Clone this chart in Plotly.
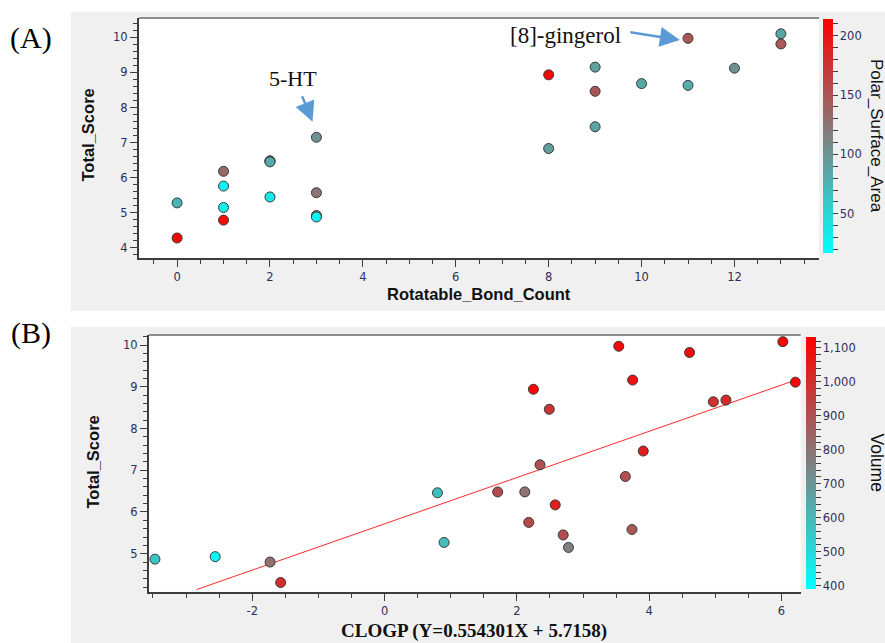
import plotly.graph_objects as go

# ---------------- data ----------------
# Panel A: Rotatable_Bond_Count vs Total_Score, coloured by Polar_Surface_Area
rot_bonds = [0, 0, 1, 1, 1, 1, 2, 2, 2, 2, 3, 3, 3, 3,
             8, 9, 9, 10, 9, 8, 11, 11, 12, 13, 13]
score_a = [5.28, 4.28, 6.18, 5.76, 5.15, 4.79, 6.48, 6.47, 6.45, 5.45, 7.15, 5.57, 4.92, 4.88,
           8.93, 9.15, 8.46, 8.68, 7.45, 6.83, 9.97, 8.63, 9.12, 10.10, 9.81]
psa = [75, 210, 135, 25, 30, 205, 85, 88, 82, 35, 102, 125, 130, 28,
       210, 90, 150, 85, 88, 92, 148, 80, 102, 85, 145]

# Panel B: CLOGP vs Total_Score, coloured by Volume
clogp = [-3.47, -2.56, -1.73, -1.57, 3.54, 3.75, 2.25, 2.49, 3.91, 2.35, 3.64, 0.80, 1.71,
         2.12, 2.58, 2.18, 2.70, 2.78, 3.74, 0.90, 4.61, 6.02, 6.21, 4.97, 5.16]
score_b = [4.87, 4.93, 4.80, 4.31, 9.97, 9.16, 8.94, 8.46, 7.46, 7.13, 6.85, 6.46, 6.48,
           6.48, 6.17, 5.75, 5.45, 5.15, 5.58, 5.27, 9.82, 10.08, 9.11, 8.64, 8.68]
volume = [560, 410, 810, 1000, 1110, 1080, 1120, 980, 1050, 900, 900, 580, 920,
          800, 1050, 920, 910, 760, 880, 590, 1100, 1120, 1110, 1000, 1010]

# Linear fit shown in panel B title
fit_slope = 0.554301
fit_intercept = 5.7158
fit_x = [-2.84, 6.21]
fit_y = [fit_slope * v + fit_intercept for v in fit_x]

clogp_ticks = [-2, 0, 2, 4, 6]
clogp_ticktext = ["-2", "0", "2", "4", "6"]
psa_ticks = list(range(20, 211, 10))
psa_ticktext = [str(v) if v % 50 == 0 else "" for v in psa_ticks]
vol_ticks = list(range(400, 1121, 20))
vol_ticktext = [f"{v:,}" if v % 100 == 0 else "" for v in vol_ticks]

# ---------------- layout helpers ----------------
W, H = 885, 643
def fx(px):
    return px / W
def fy(py):
    return 1 - py / H

A_L, A_R, A_T, A_B = 139, 819, 18, 258
B_L, B_R, B_T, B_B = 149, 800.7, 335, 591.7

scale = [[0, "#00FFFF"], [0.5, "#808080"], [1, "#FF0000"]]
tickfont = dict(family="DejaVu Sans", size=11.5, color="#2e2e5e")
axcol = "#3c3c3c"

fig = go.Figure()
fig.add_trace(go.Scatter(
    x=rot_bonds, y=score_a, mode="markers", xaxis="x", yaxis="y",
    marker=dict(color=psa, coloraxis="coloraxis", size=10,
                line=dict(color="#3a3a3a", width=1)),
    showlegend=False))
fig.add_trace(go.Scatter(
    x=fit_x, y=fit_y, mode="lines", xaxis="x2", yaxis="y2",
    line=dict(color="#ff2a2a", width=1), showlegend=False))
fig.add_trace(go.Scatter(
    x=clogp, y=score_b, mode="markers", xaxis="x2", yaxis="y2",
    marker=dict(color=volume, coloraxis="coloraxis2", size=10,
                line=dict(color="#3a3a3a", width=1)),
    showlegend=False))

common_axis = dict(showgrid=False, zeroline=False, showline=True, linecolor=axcol,
                   linewidth=2, ticks="outside", ticklen=7, tickwidth=1,
                   tickcolor=axcol, tickfont=tickfont)

fig.update_layout(
    width=W, height=H,
    margin=dict(l=0, r=0, t=0, b=0),
    paper_bgcolor="white",
    plot_bgcolor="rgba(0,0,0,0)",
    xaxis=dict(domain=[fx(A_L), fx(A_R)], range=[-0.82, 13.82], dtick=2, tick0=0,
               anchor="y", minor=dict(dtick=0.5, ticks="outside", ticklen=4,
                                      tickcolor=axcol, showgrid=False),
               **common_axis),
    yaxis=dict(domain=[fy(A_B), fy(A_T)], range=[3.71, 10.55], dtick=1, tick0=0,
               anchor="x", minor=dict(dtick=0.2, ticks="outside", ticklen=4,
                                      tickcolor=axcol, showgrid=False),
               **common_axis),
    xaxis2=dict(domain=[fx(B_L), fx(B_R)], range=[-3.56, 6.29],
                tickmode="array", tickvals=clogp_ticks, ticktext=clogp_ticktext,
                anchor="y2", minor=dict(dtick=0.5, tick0=0, ticks="outside", ticklen=4,
                                        tickcolor=axcol, showgrid=False),
                **common_axis),
    yaxis2=dict(domain=[fy(B_B), fy(B_T)], range=[4.09, 10.24], dtick=1, tick0=0,
                anchor="x2", minor=dict(dtick=0.2, ticks="outside", ticklen=4,
                                        tickcolor=axcol, showgrid=False),
                **common_axis),
    coloraxis=dict(cmin=17, cmax=214, colorscale=scale,
                   colorbar=dict(x=fx(823), xanchor="left", xpad=0,
                                 y=fy(253), yanchor="bottom", ypad=0,
                                 len=(253 - 19) / H, lenmode="fraction",
                                 thickness=10, thicknessmode="pixels",
                                 outlinewidth=0, ticks="outside", ticklen=5,
                                 tickcolor=axcol, tickvals=psa_ticks,
                                 ticktext=psa_ticktext, tickfont=tickfont)),
    coloraxis2=dict(cmin=390, cmax=1132, colorscale=scale,
                    colorbar=dict(x=fx(806), xanchor="left", xpad=0,
                                  y=fy(589), yanchor="bottom", ypad=0,
                                  len=(589 - 336.7) / H, lenmode="fraction",
                                  thickness=10, thicknessmode="pixels",
                                  outlinewidth=0, ticks="outside", ticklen=5,
                                  tickcolor=axcol, tickvals=vol_ticks,
                                  ticktext=vol_ticktext, tickfont=tickfont)),
)

# panel backgrounds
shapes = [
    dict(type="rect", xref="paper", yref="paper", x0=fx(71), x1=1, y0=fy(311), y1=fy(12),
         fillcolor="#f0f0f0", line=dict(width=0), layer="below"),
    dict(type="rect", xref="paper", yref="paper", x0=fx(71), x1=1, y0=0, y1=fy(327),
         fillcolor="#f0f0f0", line=dict(width=0), layer="below"),
    dict(type="rect", xref="paper", yref="paper", x0=fx(A_L), x1=fx(A_R), y0=fy(A_B), y1=fy(A_T),
         fillcolor="white", line=dict(width=0), layer="below"),
    dict(type="rect", xref="paper", yref="paper", x0=fx(B_L), x1=fx(B_R), y0=fy(B_B), y1=fy(B_T),
         fillcolor="white", line=dict(width=0), layer="below"),
    dict(type="line", xref="x domain", yref="y domain", x0=0, x1=1, y0=1, y1=1,
         line=dict(color="#8c8c8c", width=2)),
    dict(type="line", xref="x2 domain", yref="y2 domain", x0=0, x1=1, y0=1, y1=1,
         line=dict(color="#8c8c8c", width=2)),
]
fig.update_layout(shapes=shapes)

sans_b = dict(family="Liberation Sans", size=16.5, color="#111111")
serif = "Liberation Serif"
arrow_col = "#5b9bd5"

annotations = [
    dict(text="(A)", x=fx(31), y=fy(38), font=dict(family=serif, size=30, color="black")),
    dict(text="(B)", x=fx(31), y=fy(332.5), font=dict(family=serif, size=30, color="black")),
    dict(text="<b>Total_Score</b>", x=fx(88), y=fy(135.5), textangle=-90, font=sans_b),
    dict(text="<b>Rotatable_Bond_Count</b>", x=fx(478.5), y=fy(294), font=sans_b),
    dict(text="<b>Total_Score</b>", x=fx(92.5), y=fy(462), textangle=-90, font=sans_b),
    dict(text="<b>CLOGP (Y=0.554301X + 5.7158)</b>", x=fx(474), y=fy(631),
         font=dict(family=serif, size=19, color="#111111")),
    dict(text="Polar_Surface_Area", x=fx(876.5), y=fy(135.5), textangle=90,
         font=dict(family="Liberation Sans", size=17, color="#111111")),
    dict(text="Volume", x=fx(876.5), y=fy(462), textangle=90,
         font=dict(family="Liberation Sans", size=17.5, color="#111111")),
    dict(text="5-HT", x=fx(292.5), y=fy(78.3), font=dict(family=serif, size=22, color="#111111")),
    dict(text="[8]-gingerol", x=fx(565.5), y=fy(35), font=dict(family=serif, size=23, color="#111111")),
]
for a in annotations:
    a.update(xref="paper", yref="paper", xanchor="center", yanchor="middle", showarrow=False)

annotations += [
    dict(text="", x=2.916, y=7.593, xref="x", yref="y", showarrow=True, ax=-11, ay=-27,
         arrowhead=2, arrowsize=1.6, arrowwidth=2.5, arrowcolor=arrow_col, standoff=0),
    dict(text="", x=10.825, y=9.922, xref="x", yref="y", showarrow=True, ax=-51, ay=-8,
         arrowhead=2, arrowsize=1.6, arrowwidth=2.5, arrowcolor=arrow_col, standoff=0),
]
fig.update_layout(annotations=annotations)

# remove the page's default body margin so the figure sits at the window's top-left
fig.write_html("out.html", config={"displayModeBar": False},
               post_script="document.body.style.margin='0';document.body.style.overflow='hidden';")
